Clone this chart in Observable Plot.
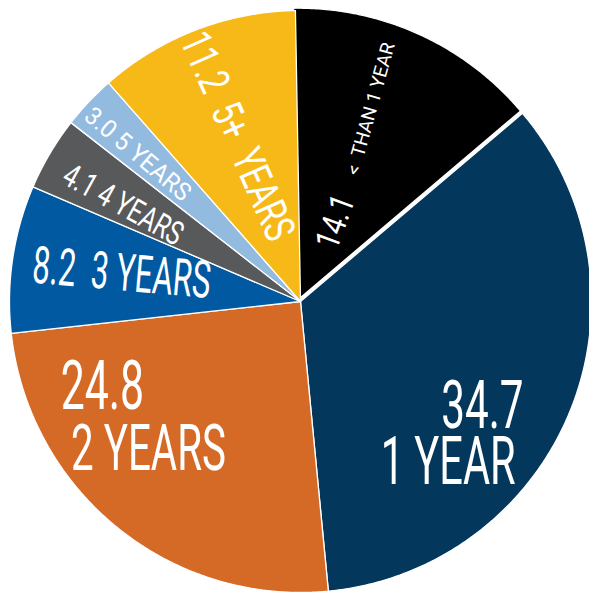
<!DOCTYPE html>
<html><head><meta charset="utf-8">
<script src="https://cdn.jsdelivr.net/npm/d3@7"></script>
<script src="https://cdn.jsdelivr.net/npm/@observablehq/plot@0.6"></script>
<style>
html,body{margin:0;padding:0;background:#fff}
#chart svg{display:block;background:#fff}
</style>
</head><body><div id="chart"></div>
<script>
// ---- data ----
const categories = ["< THAN 1 YEAR", "1 YEAR", "2 YEARS", "3 YEARS", "4 YEARS", "5 YEARS", "5+ YEARS"];
const values = [14.1, 34.7, 24.8, 8.2, 4.1, 3.0, 11.2];
const valueLabels = ["14.1", "34.7", "24.8", "8.2", "4.1", "3.0", "11.2"];
const colors = ["#000000", "#03385c", "#d56a27", "#0059a1", "#58595b", "#93bbe0", "#f7b918"];

// ---- layout / style ----
const W = 589, H = 594;
const CX = 300, CY = 301, R = 291;
const START = -1;            // degrees, clockwise from 12 o'clock
const explode = [3, 0, 0, 0, 0, 0, 0];
const NB = "\u00a0";
// label pieces: slice index, text, radius, angle offset from bisector, rotation, size, horizontal squeeze
const labelLayout = [
  {i: 0, text: valueLabels[0], r: 87, da: -0.5, rot: -70, size: 34, sx: 0.82},
  {i: 0, text: "<" + NB + NB + categories[0].slice(2), r: 205, da: -4.3, rot: -74.5, size: 19, sx: 1.0},
  {i: 1, text: valueLabels[1], r: 210, da: 7.9, rot: 0, size: 67, sx: 0.63},
  {i: 1, text: categories[1], r: 219, da: 25.5, rot: 0, size: 66, sx: 0.63},
  {i: 2, text: valueLabels[2], r: 216, da: 27.4, rot: 0, size: 68, sx: 0.63},
  {i: 2, text: categories[2], r: 212, da: 6.7, rot: 0, size: 64, sx: 0.63},
  {i: 3, text: valueLabels[3] + NB + NB + categories[3], r: 181, da: 0.4, rot: 5, size: 52, sx: 0.6},
  {i: 4, text: valueLabels[4] + NB + categories[4], r: 202, da: -2, rot: 29, size: 33, sx: 0.73},
  {i: 5, text: valueLabels[5] + NB + categories[5], r: 219.5, da: -1.2, rot: 40.2, size: 25, sx: 0.95},
  {i: 6, text: valueLabels[6] + NB + NB + categories[6].replace(" ", NB + NB), r: 177, da: 0.1, rot: 66.2, size: 43, sx: 0.73}
];

const rad = d => d * Math.PI / 180;
const total = d3.sum(values);
let acc = 0;
const slices = values.map((v, i) => {
  const a0 = START + acc / total * 360; acc += v;
  const a1 = START + acc / total * 360;
  return {i, key: categories[i], a0, a1, mid: (a0 + a1) / 2};
});

const pts = [];
for (const s of slices) {
  const e = explode[s.i];
  const ox = e * Math.sin(rad(s.a1 - 90)), oy = -e * Math.cos(rad(s.a1 - 90));
  pts.push({key: s.key, x: ox, y: oy});
  const n = Math.ceil((s.a1 - s.a0) / 0.5);
  for (let k = 0; k <= n; k++) {
    const a = rad(s.a0 + (s.a1 - s.a0) * k / n);
    pts.push({key: s.key, x: ox + R * Math.sin(a), y: oy - R * Math.cos(a)});
  }
  pts.push({key: s.key, x: ox, y: oy});
}

const labels = labelLayout.map(l => {
  const a = rad(slices[l.i].mid + l.da);
  return {...l, x: l.r * Math.sin(a), y: -l.r * Math.cos(a)};
});

const svg = Plot.plot({
  width: W, height: H, margin: 0,
  style: {background: "#fff"},
  x: {domain: [-CX, W - CX], axis: null},
  y: {domain: [-CY, H - CY], range: [0, H], axis: null},
  color: {domain: categories, range: colors},
  marks: [
    Plot.line(pts, {x: "x", y: "y", z: "key", fill: "key", stroke: "white", strokeWidth: 1.3, strokeLinejoin: "round"}),
    Plot.text(labels, {x: "x", y: "y", text: "text", rotate: d => d.rot, fontSize: d => d.size,
      fill: "white", fontFamily: "Roboto, 'Liberation Sans', sans-serif", fontWeight: 400})
  ]
});

d3.select(svg).selectAll('g[aria-label="text"] text').each(function(d, j) {
  const t = this.getAttribute("transform") || "";
  this.setAttribute("transform", t + ` scale(${labels[j].sx},1)`);
});
document.getElementById("chart").appendChild(svg);
</script>
</body></html>
